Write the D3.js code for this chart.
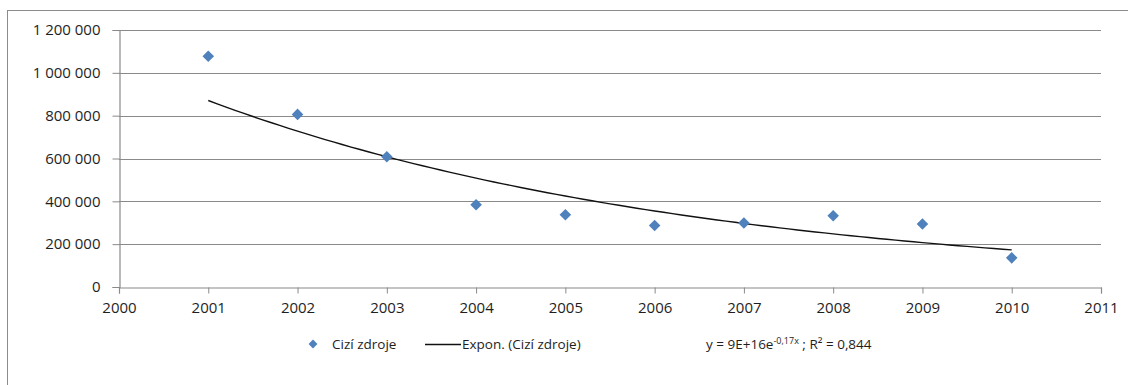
<!DOCTYPE html>
<html>
<head>
<meta charset="utf-8">
<script src="https://cdn.jsdelivr.net/npm/d3@7"></script>
<style>
  html, body { margin: 0; padding: 0; background: #fff; }
  svg { display: block; font-family: "Open Sans", "Liberation Sans", sans-serif; }
</style>
</head>
<body>
<svg id="chart" width="1128" height="385"></svg>
<script>
const years = [2001, 2002, 2003, 2004, 2005, 2006, 2007, 2008, 2009, 2010];
const values = [1077000, 806000, 608000, 384000, 337000, 287000, 299000, 333000, 294000, 136000];
const yTicks = [0, 200000, 400000, 600000, 800000, 1000000, 1200000];
const xTicks = [2000, 2001, 2002, 2003, 2004, 2005, 2006, 2007, 2008, 2009, 2010, 2011];
const seriesName = "Cizí zdroje";
const trendName = "Expon. (Cizí zdroje)";
const equationMain = "y = 9E+16e";
const equationExp = "-0,17x";
const equationTail = " ; R² = 0,844";

const svg = d3.select("#chart");
const plot = { left: 119, right: 1101, top: 30, bottom: 287 };

// outer chart border
svg.append("rect")
  .attr("x", 7.5).attr("y", 10.5)
  .attr("width", 1200).attr("height", 500)
  .attr("fill", "#fff").attr("stroke", "#8c8c8c").attr("stroke-width", 1);

const x = d3.scaleLinear().domain([2000, 2011]).range([plot.left, plot.right]);
const y = d3.scaleLinear().domain([0, 1200000]).range([plot.bottom, plot.top]);

const fmt = v => d3.format(",")(v).replace(/,/g, "\u00a0");

// gridlines
svg.append("g").selectAll("line").data(yTicks.filter(d => d > 0)).join("line")
  .attr("x1", plot.left).attr("x2", plot.right)
  .attr("y1", d => Math.round(y(d)) + 0.5).attr("y2", d => Math.round(y(d)) + 0.5)
  .attr("stroke", "#8a8a8a").attr("stroke-width", 1.2);

// y axis
const yAxis = svg.append("g")
  .attr("transform", `translate(${plot.left + 0.5},0)`)
  .call(d3.axisLeft(y).tickValues(yTicks).tickSize(7).tickPadding(12).tickFormat(fmt));
yAxis.select(".domain").attr("stroke", "#8a8a8a").attr("stroke-width", 1.2);
yAxis.selectAll(".tick line").attr("stroke", "#8a8a8a");
yAxis.selectAll("text").attr("font-size", 15).attr("fill", "#1e1e1e")
  .attr("font-family", "Open Sans, sans-serif");

// x axis
const xAxis = svg.append("g")
  .attr("transform", `translate(0,${Math.round(plot.bottom) + 0.5})`)
  .call(d3.axisBottom(x).tickValues(xTicks).tickSize(6).tickPadding(9).tickFormat(d3.format("d")));
xAxis.select(".domain").attr("stroke", "#8a8a8a").attr("stroke-width", 1.2);
xAxis.selectAll(".tick line").attr("stroke", "#8a8a8a");
xAxis.selectAll("text").attr("font-size", 15).attr("fill", "#1e1e1e")
  .attr("font-family", "Open Sans, sans-serif");

// exponential trend fit (least squares on ln y)
const lnv = values.map(v => Math.log(v));
const mx = d3.mean(years), my = d3.mean(lnv);
const slope = d3.sum(years, (t, i) => (t - mx) * (lnv[i] - my)) / d3.sum(years, t => (t - mx) ** 2);
const icpt = my - slope * mx;
const trendYears = d3.range(years[0], years[years.length - 1] + 0.001, 0.1);
const line = d3.line().x(d => x(d)).y(d => y(Math.exp(icpt + slope * d)));
svg.append("path").datum(trendYears)
  .attr("d", line).attr("fill", "none").attr("stroke", "#111").attr("stroke-width", 1.4);

// markers
const diamond = d3.symbol().type(d3.symbolDiamond2).size(85);
svg.append("g").selectAll("path").data(years).join("path")
  .attr("transform", (d, i) => `translate(${x(d)},${y(values[i])})`)
  .attr("d", diamond)
  .attr("fill", "#4f81bd");

// legend
const lg = svg.append("g").attr("font-size", 13.5).attr("fill", "#1e1e1e");
lg.append("path").attr("transform", "translate(313,344)").attr("d", d3.symbol().type(d3.symbolDiamond2).size(50)).attr("fill", "#4f81bd");
lg.append("text").attr("x", 332).attr("y", 349).text(seriesName);
lg.append("line").attr("x1", 425).attr("x2", 461).attr("y1", 344.5).attr("y2", 344.5).attr("stroke", "#111").attr("stroke-width", 1.3);
lg.append("text").attr("x", 462).attr("y", 349).text(trendName);
const eq = lg.append("text").attr("x", 706).attr("y", 349);
eq.append("tspan").text(equationMain);
eq.append("tspan").attr("font-size", 9).attr("dy", -5).text(equationExp);
eq.append("tspan").attr("dy", 5).text(equationTail);
</script>
</body>
</html>
